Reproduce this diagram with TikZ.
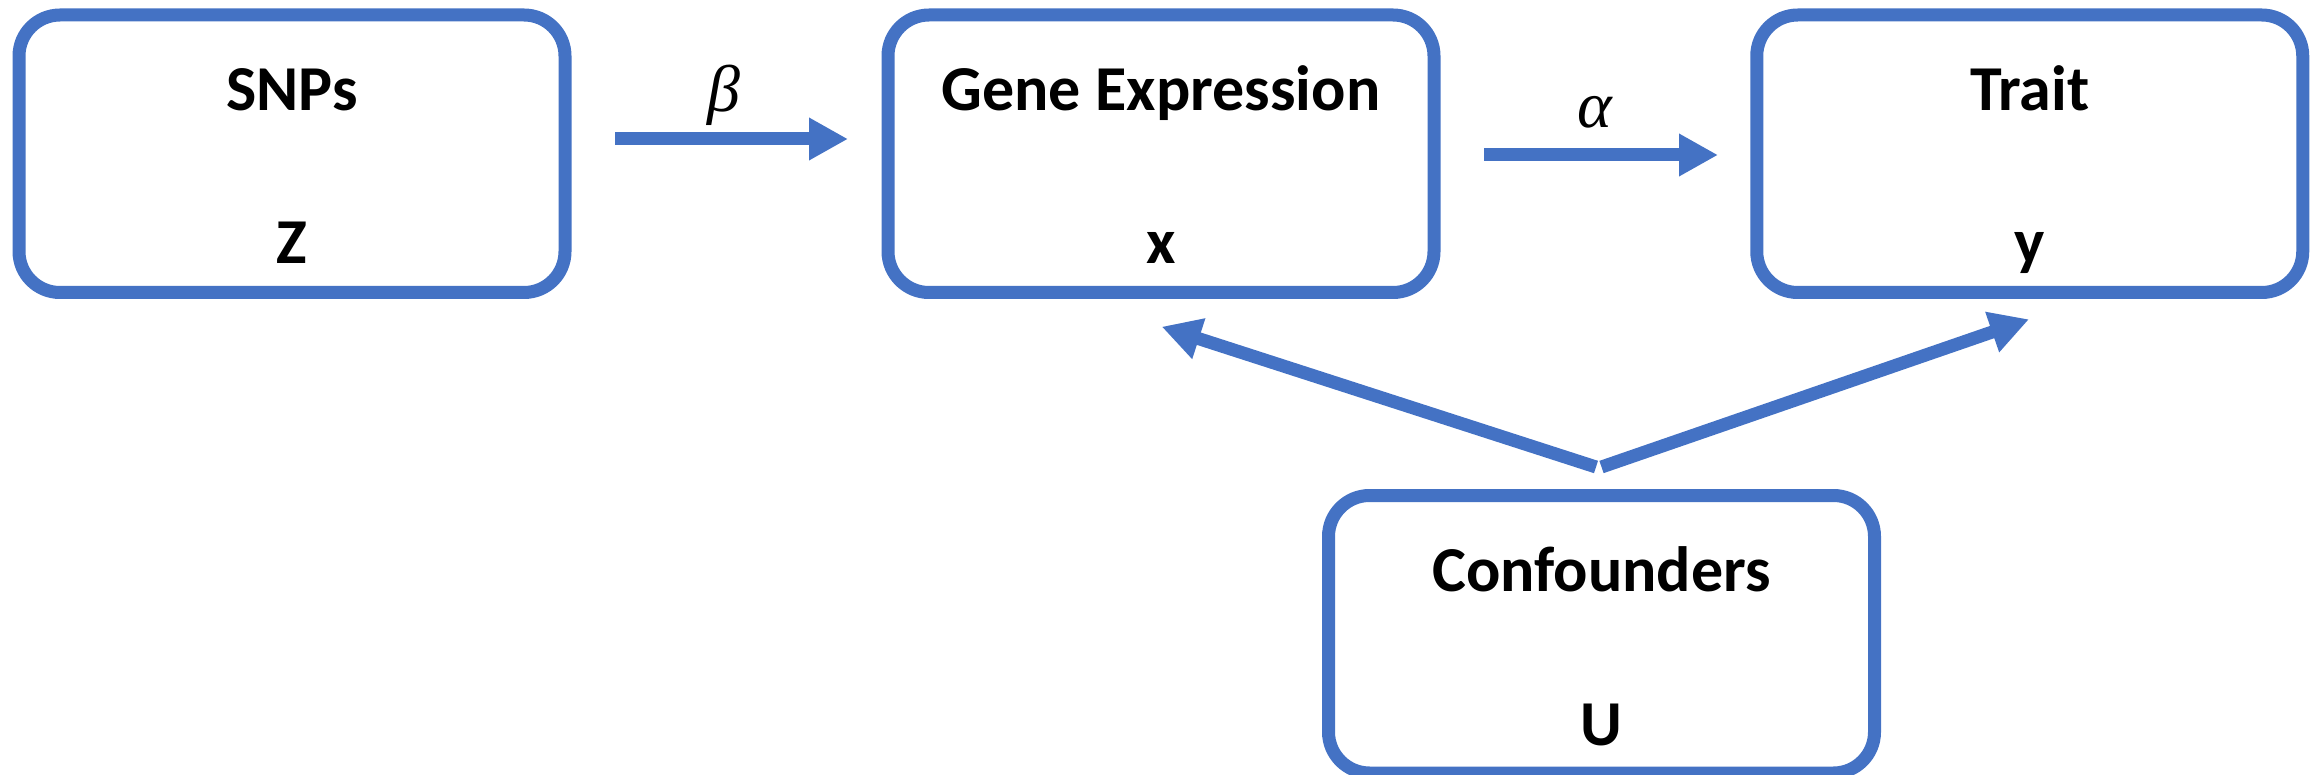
\documentclass[tikz,border=0pt]{standalone}
\usepackage{fontspec}
\setmainfont{Carlito}
\newfontfamily\coeffont{Liberation Serif}
\usetikzlibrary{arrows.meta}
\definecolor{boxblue}{HTML}{4472C4}
\tikzset{
  box/.style={draw=boxblue, line width=13pt, rounded corners=41pt,
    minimum width=546pt, minimum height=277.5pt, inner sep=0pt, fill=white},
  ttl/.style={font=\fontsize{64}{64}\selectfont\bfseries, anchor=base, inner sep=0pt},
  coef/.style={font=\fontsize{66}{66}\selectfont\coeffont\itshape, anchor=base, inner sep=0pt},
  lnk/.style={draw=boxblue, line width=13pt, -{Triangle[length=39pt,width=40pt]}},
}
\begin{document}
\begin{tikzpicture}[x=1pt, y=-1pt]
  \useasboundingbox (0,0) rectangle (2323,775);

  % boxes
  \node[box] (snp)  at (292,153.75) {};
  \node[box] (gene) at (1161,153.75) {};
  \node[box] (trait) at (2029.75,153.75) {};
  \node[box] (conf) at (1601.5,634.25) {};

  % box titles and variable names
  \node[ttl] (snpT)   at (292,111) {SNPs};
  \node[ttl] (snpV)   at (292,264) {Z};
  \node[ttl] (geneT)  at (1161,111) {Gene Expression};
  \node[ttl] (geneV)  at (1161,264) {x};
  \node[ttl] (traitT) at (2029.75,111) {Trait};
  \node[ttl] (traitV) at (2029.75,264) {y};
  \node[ttl] (confT)  at (1601.5,591.5) {Confounders};
  \node[ttl] (confV)  at (1601.5,745) {U};

  % arrow end points
  \coordinate (bS) at (615,139);
  \coordinate (bE) at (848,139);
  \coordinate (aS) at (1484,155);
  \coordinate (aE) at (1718,155);
  \coordinate (uL) at (1596,467);
  \coordinate (uR) at (1601.5,467);
  \coordinate (xT) at (1161.7,326.7);
  \coordinate (yT) at (2029,319.3);

  % effects
  \draw[lnk] (bS) -- (bE);
  \draw[lnk] (aS) -- (aE);
  \draw[lnk] (uL) -- (xT);
  \draw[lnk] (uR) -- (yT);

  % coefficient labels
  \node[coef] (beta)  at (724,111.5) {β};
  \node[coef] (alpha) at (1594.5,128) {α};
\end{tikzpicture}
\end{document}
